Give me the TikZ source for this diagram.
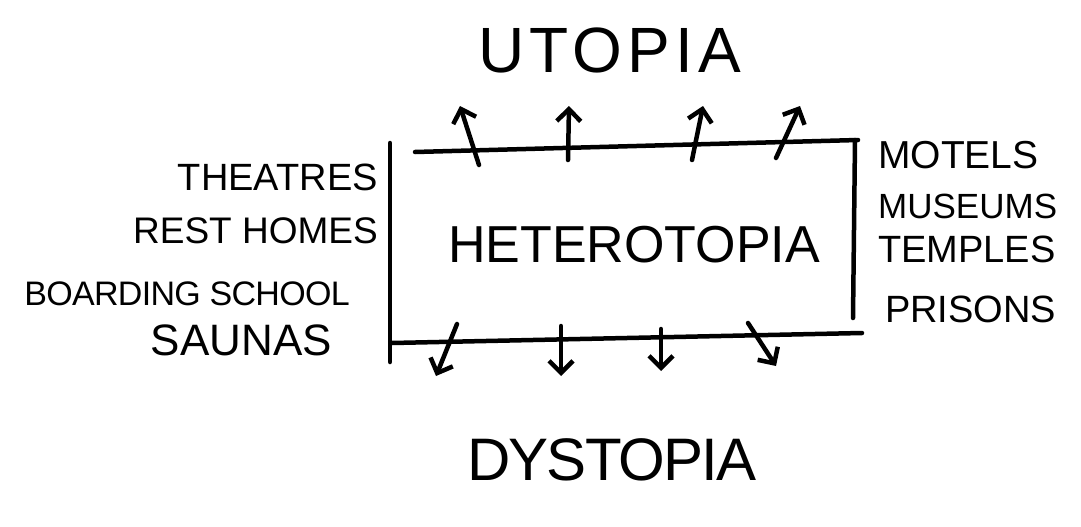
\documentclass[tikz,border=0pt]{standalone}
\usepackage{fontspec}
\setmainfont{Liberation Sans}
\usetikzlibrary{arrows.meta}
\tikzset{
  ink/.style={line width=4.5pt, line cap=round, line join=round, black},
  arr/.style={ink, -{Straight Barb[length=12pt,width=24pt,line width=4.5pt]}},
  lbl/.style={inner sep=0pt, black},
}
\newcommand{\fs}[1]{\fontsize{#1}{#1}\selectfont}
\begin{document}
\begin{tikzpicture}[x=1pt,y=-1pt]
\useasboundingbox[fill=white] (0,0) rectangle (1081,527);
% titles
\node[lbl,anchor=base] (utopia) at (610,72) {\fs{64}\addfontfeatures{LetterSpace=8}UTOPIA};
\node[lbl,anchor=base] (hetero) at (634,262) {\fs{52}HETEROTOPIA};
\node[lbl,anchor=base] (dystopia) at (612,480) {\fs{60}\addfontfeatures{LetterSpace=-3}DYSTOPIA};
% box corners
\coordinate (tl) at (415,152);
\coordinate (tr) at (858,140);
\coordinate (bl) at (392,343);
\coordinate (br) at (862,333);
\coordinate (lt) at (390,143);
\coordinate (lb) at (390,362);
\coordinate (rt) at (855,140);
\coordinate (rb) at (853,318);
\draw[ink] (tl) -- (tr);
\draw[ink] (bl) -- (br);
\draw[ink] (lt) -- (lb);
\draw[ink] (rt) -- (rb);
% up arrows
\coordinate (u1a) at (479,165); \coordinate (u1b) at (460,106);
\coordinate (u2a) at (568,160); \coordinate (u2b) at (569,106);
\coordinate (u3a) at (692,160); \coordinate (u3b) at (703,106);
\coordinate (u4a) at (776,158); \coordinate (u4b) at (800,106);
\draw[arr] (u1a) -- (u1b);
\draw[arr] (u2a) -- (u2b);
\draw[arr] (u3a) -- (u3b);
\draw[arr] (u4a) -- (u4b);
% down arrows
\coordinate (d1a) at (457,324); \coordinate (d1b) at (436,376);
\coordinate (d2a) at (561,326); \coordinate (d2b) at (561,376);
\coordinate (d3a) at (661,329); \coordinate (d3b) at (661,371);
\coordinate (d4a) at (748,323); \coordinate (d4b) at (776,366);
\draw[arr] (d1a) -- (d1b);
\draw[arr] (d2a) -- (d2b);
\draw[arr] (d3a) -- (d3b);
\draw[arr] (d4a) -- (d4b);
% left labels
\node[lbl,anchor=base east] (theatres) at (378,190) {\fs{38}THEATRES};
\node[lbl,anchor=base east] (rest) at (378,243) {\fs{37}REST HOMES};
\node[lbl,anchor=base east] (boarding) at (350,305) {\fs{34}\addfontfeatures{LetterSpace=-2}BOARDING SCHOOL};
\node[lbl,anchor=base east] (saunas) at (332,355) {\fs{44}SAUNAS};
% right labels
\node[lbl,anchor=base west] (motels) at (878,168) {\fs{39}MOTELS};
\node[lbl,anchor=base west] (museums) at (878,218) {\fs{35}MUSEUMS};
\node[lbl,anchor=base west] (temples) at (878,262) {\fs{38}TEMPLES};
\node[lbl,anchor=base west] (prisons) at (885,322) {\fs{38}PRISONS};
\end{tikzpicture}
\end{document}
